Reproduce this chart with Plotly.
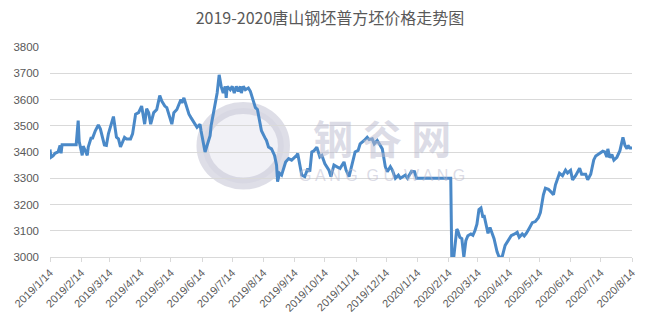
import plotly.graph_objects as go

title_text = "2019-2020唐山钢坯普方坯价格走势图"

dates = [
    "2019-01-14", "2019-01-15", "2019-01-17", "2019-01-19", "2019-01-22", "2019-01-24", "2019-01-25", "2019-01-26",
    "2019-02-09", "2019-02-11", "2019-02-12", "2019-02-15", "2019-02-16", "2019-02-20", "2019-02-21", "2019-02-24",
    "2019-02-25", "2019-02-28", "2019-03-03", "2019-03-05", "2019-03-09", "2019-03-11", "2019-03-13", "2019-03-16",
    "2019-03-18", "2019-03-21", "2019-03-23", "2019-03-25", "2019-03-29", "2019-03-31", "2019-04-04", "2019-04-06",
    "2019-04-09", "2019-04-12", "2019-04-15", "2019-04-18", "2019-04-20", "2019-04-22", "2019-04-24", "2019-04-27",
    "2019-04-30", "2019-05-03", "2019-05-05", "2019-05-08", "2019-05-10", "2019-05-15", "2019-05-17", "2019-05-20",
    "2019-05-24", "2019-05-25", "2019-05-27", "2019-05-29", "2019-06-01", "2019-06-03", "2019-06-07", "2019-06-09",
    "2019-06-12", "2019-06-13", "2019-06-17", "2019-06-19", "2019-06-22", "2019-06-23", "2019-06-27", "2019-06-29",
    "2019-07-01", "2019-07-03", "2019-07-05", "2019-07-07", "2019-07-08", "2019-07-09", "2019-07-12", "2019-07-14",
    "2019-07-16", "2019-07-18", "2019-07-20", "2019-07-22", "2019-07-23", "2019-07-25", "2019-07-27", "2019-07-30",
    "2019-08-01", "2019-08-04", "2019-08-06", "2019-08-08", "2019-08-11", "2019-08-12", "2019-08-16", "2019-08-17",
    "2019-08-19", "2019-08-22", "2019-08-25", "2019-08-27", "2019-08-28", "2019-08-30", "2019-09-01", "2019-09-05",
    "2019-09-08", "2019-09-11", "2019-09-16", "2019-09-17", "2019-09-21", "2019-09-24", "2019-09-27", "2019-09-29",
    "2019-10-01", "2019-10-03", "2019-10-06", "2019-10-09", "2019-10-11", "2019-10-14", "2019-10-18", "2019-10-20",
    "2019-10-23", "2019-10-26", "2019-10-29", "2019-11-02", "2019-11-04", "2019-11-07", "2019-11-10", "2019-11-13",
    "2019-11-16", "2019-11-18", "2019-11-22", "2019-11-25", "2019-11-27", "2019-11-30", "2019-12-02", "2019-12-05",
    "2019-12-07", "2019-12-10", "2019-12-13", "2019-12-15", "2019-12-18", "2019-12-20", "2019-12-23", "2019-12-26",
    "2019-12-28", "2020-01-02", "2020-01-04", "2020-01-08", "2020-01-11", "2020-01-13", "2020-02-16", "2020-02-17",
    "2020-02-19", "2020-02-22", "2020-02-23", "2020-02-25", "2020-02-27", "2020-02-29", "2020-03-02", "2020-03-04",
    "2020-03-07", "2020-03-09", "2020-03-11", "2020-03-13", "2020-03-15", "2020-03-17", "2020-03-19", "2020-03-20",
    "2020-03-24", "2020-03-26", "2020-03-30", "2020-04-02", "2020-04-04", "2020-04-07", "2020-04-10", "2020-04-13",
    "2020-04-16", "2020-04-19", "2020-04-22", "2020-04-24", "2020-04-27", "2020-04-29", "2020-05-01", "2020-05-04",
    "2020-05-07", "2020-05-10", "2020-05-13", "2020-05-15", "2020-05-18", "2020-05-20", "2020-05-23", "2020-05-25",
    "2020-05-28", "2020-05-30", "2020-06-03", "2020-06-06", "2020-06-09", "2020-06-11", "2020-06-14", "2020-06-16",
    "2020-06-19", "2020-06-23", "2020-06-25", "2020-06-29", "2020-07-01", "2020-07-04", "2020-07-07", "2020-07-09",
    "2020-07-12", "2020-07-16", "2020-07-18", "2020-07-20", "2020-07-21", "2020-07-23", "2020-07-25", "2020-07-27",
    "2020-07-30", "2020-08-02", "2020-08-05", "2020-08-07", "2020-08-09", "2020-08-10", "2020-08-12", "2020-08-14",
]

prices = [
    3410, 3380, 3385, 3395, 3400, 3425, 3395, 3428,
    3428, 3520, 3440, 3387, 3422, 3387, 3419, 3456,
    3450, 3481, 3503, 3488, 3427, 3425, 3469, 3506,
    3535, 3456, 3450, 3419, 3456, 3450, 3450, 3469,
    3544, 3550, 3575, 3506, 3565, 3550, 3506, 3550,
    3562, 3615, 3594, 3575, 3569, 3506, 3550, 3562,
    3600, 3587, 3606, 3581, 3544, 3531, 3506, 3494,
    3506, 3481, 3400, 3425, 3462, 3500, 3594, 3625,
    3694, 3650, 3625, 3650, 3606, 3650, 3637, 3650,
    3625, 3650, 3631, 3650, 3625, 3650, 3637, 3644,
    3631, 3587, 3569, 3562, 3500, 3481, 3450, 3444,
    3419, 3412, 3387, 3350, 3287, 3319, 3312, 3362,
    3375, 3369, 3387, 3394, 3312, 3306, 3337, 3325,
    3400, 3404, 3418, 3381, 3387, 3355, 3331, 3306,
    3350, 3344, 3337, 3362, 3331, 3306, 3350, 3400,
    3406, 3431, 3444, 3456, 3447, 3450, 3431, 3444,
    3431, 3412, 3344, 3325, 3344, 3331, 3300, 3312,
    3300, 3312, 3300, 3326, 3325, 3300, 3300, 3000,
    3000, 3106, 3100, 3075, 3070, 3000, 3062, 3081,
    3088, 3083, 3100, 3125, 3181, 3187, 3150, 3160,
    3090, 3112, 3070, 3020, 3000, 3000, 3044, 3062,
    3081, 3087, 3094, 3075, 3088, 3080, 3090, 3110,
    3131, 3135, 3150, 3169, 3237, 3262, 3258, 3250,
    3237, 3275, 3319, 3310, 3331, 3320, 3330, 3294,
    3310, 3338, 3315, 3315, 3294, 3315, 3370, 3385,
    3394, 3403, 3400, 3381, 3412, 3378, 3390, 3369,
    3380, 3405, 3456, 3425, 3412, 3425, 3415, 3415,
]

tick_dates = [
    "2019-01-14", "2019-02-14", "2019-03-14", "2019-04-14", "2019-05-14", "2019-06-14",
    "2019-07-14", "2019-08-14", "2019-09-14", "2019-10-14", "2019-11-14", "2019-12-14",
    "2020-01-14", "2020-02-14", "2020-03-14", "2020-04-14", "2020-05-14", "2020-06-14",
    "2020-07-14", "2020-08-14",
]
tick_labels = [
    "2019/1/14", "2019/2/14", "2019/3/14", "2019/4/14", "2019/5/14", "2019/6/14",
    "2019/7/14", "2019/8/14", "2019/9/14", "2019/10/14", "2019/11/14", "2019/12/14",
    "2020/1/14", "2020/2/14", "2020/3/14", "2020/4/14", "2020/5/14", "2020/6/14",
    "2020/7/14", "2020/8/14",
]
y_ticks = [3000, 3100, 3200, 3300, 3400, 3500, 3600, 3700, 3800]

watermark_cn = "钢 谷 网"
watermark_en = "G A N G  G U  W A N G"

fig = go.Figure()
fig.add_trace(go.Scatter(
    x=dates, y=prices, mode="lines",
    line=dict(color="#4a89c8", width=3),
    hoverinfo="x+y", showlegend=False,
))

grey = "#595959"
wm = "rgba(185,185,205,0.5)"
fig.update_layout(
    width=660, height=326,
    margin=dict(l=45, r=28, t=47, b=66),
    paper_bgcolor="white", plot_bgcolor="white",
    title=dict(text=title_text, x=0.5, xanchor="center", y=0.945, yanchor="middle",
               font=dict(family="Noto Sans CJK SC", size=16, color=grey)),
    font=dict(family="Liberation Sans", size=11, color=grey),
    xaxis=dict(
        type="date", range=[tick_dates[0], tick_dates[-1]],
        tickvals=tick_dates, ticktext=tick_labels, tickangle=-45,
        showgrid=False, showline=True, linecolor="#d9d9d9", linewidth=1,
        ticks="outside", ticklen=4, tickcolor="#d9d9d9",
        tickfont=dict(size=11, color=grey), zeroline=False,
    ),
    yaxis=dict(
        range=[3000, 3800], tickvals=y_ticks,
        showgrid=True, gridcolor="#d9d9d9", gridwidth=1,
        zeroline=False, showline=False, ticks="",
        tickfont=dict(size=11.5, color=grey), ticklabelstandoff=10,
    ),
    shapes=[dict(type="circle", xref="paper", yref="paper", layer="below",
                 x0=0.262, x1=0.402, y0=0.35, y1=0.71,
                 fillcolor="rgba(215,215,228,0.35)",
                 line=dict(color="rgba(200,200,215,0.6)", width=12))],
    annotations=[
        dict(text="<b>" + watermark_cn + "</b>", xref="paper", yref="paper", x=0.571, y=0.57,
             xanchor="center", yanchor="middle",
             showarrow=False, font=dict(family="Noto Sans CJK SC", size=40, color=wm)),
        dict(text=watermark_en, xref="paper", yref="paper", x=0.571, y=0.39,
             xanchor="center", yanchor="middle",
             showarrow=False, font=dict(family="Liberation Sans", size=16, color=wm)),
    ],
)

fig.write_html("out.html")
